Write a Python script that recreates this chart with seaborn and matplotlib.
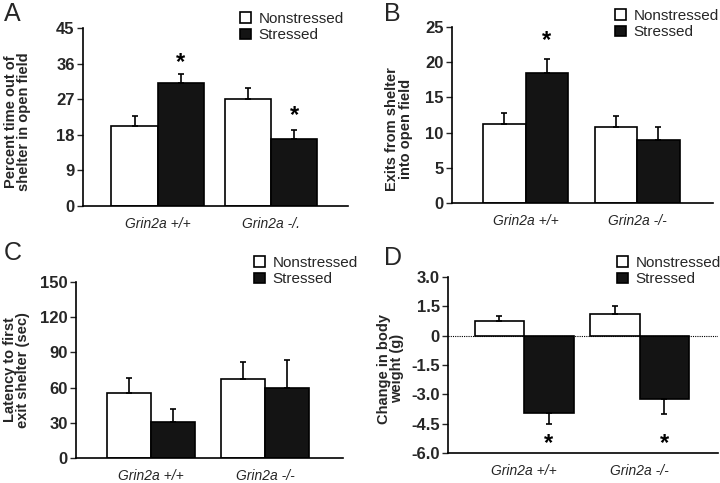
import numpy as np
import pandas as pd
import seaborn as sns
import matplotlib.pyplot as plt
from matplotlib.patches import Patch

genotypes = ["Grin2a +/+", "Grin2a -/-"]
conditions = ["Nonstressed", "Stressed"]

# panel values (Nonstressed +/+, Nonstressed -/-), (Stressed +/+, Stressed -/-)
a_non = [20.2, 27.0]
a_str = [31.1, 16.9]
a_non_err = [2.6, 2.9]
a_str_err = [2.3, 2.3]

b_non = [11.2, 10.8]
b_str = [18.5, 9.0]
b_non_err = [1.6, 1.6]
b_str_err = [1.9, 1.8]

c_non = [55.0, 67.5]
c_str = [30.6, 59.5]
c_non_err = [13.0, 14.0]
c_str_err = [11.5, 24.0]

d_non = [0.75, 1.1]
d_str = [-3.95, -3.24]
d_non_err = [0.27, 0.4]
d_str_err = [0.57, 0.78]

panels = [
    dict(letter="A", non=a_non, st=a_str, ne=a_non_err, se=a_str_err,
         ylabel="Percent time out of\nshelter in open field",
         ticks=[0, 9, 18, 27, 36, 45], ticklabels=["0", "9", "18", "27", "36", "45"],
         ylim=(0, 45), stars=[(0, 36.4), (1, 23.0)], xticklabels=["Grin2a +/+", "Grin2a -/."],
         ax=[83, 348, 28, 206], leg=(240, 12), let=(4, 2), width=0.82, lab=(-0.195, 0.475)),
    dict(letter="B", non=b_non, st=b_str, ne=b_non_err, se=b_str_err,
         ylabel="Exits from shelter\ninto open field",
         ticks=[0, 5, 10, 15, 20, 25], ticklabels=["0", "5", "10", "15", "20", "25"],
         ylim=(0, 25), stars=[(0, 23.15)], xticklabels=genotypes,
         ax=[452, 713, 27, 203], leg=(615, 9), let=(384, 2), width=0.76, lab=(-0.15, 0.42)),
    dict(letter="C", non=c_non, st=c_str, ne=c_non_err, se=c_str_err,
         ylabel="Latency to first\nexit shelter (sec)",
         ticks=[0, 30, 60, 90, 120, 150], ticklabels=["0", "30", "60", "90", "120", "150"],
         ylim=(0, 150), stars=[], xticklabels=genotypes,
         ax=[76, 343, 282, 458], leg=(254, 256), let=(4, 241), width=0.77, lab=(-0.172, 0.5)),
    dict(letter="D", non=d_non, st=d_str, ne=d_non_err, se=d_str_err,
         ylabel="Change in body\nweight (g)",
         ticks=[-6, -4.5, -3, -1.5, 0, 1.5, 3],
         ticklabels=["-6.0", "-4.5", "-3.0", "-1.5", "0", "1.5", "3.0"],
         ylim=(-6, 3), stars=[(0, -5.5), (1, -5.5)], xticklabels=genotypes,
         ax=[448, 718, 277, 453], leg=(617, 256), let=(384, 246), width=0.86, lab=(-0.163, 0.48)),
]

sns.set_theme(style="ticks")
plt.rcParams["font.family"] = ["Liberation Sans", "DejaVu Sans"]

W, H = 720, 483
fig = plt.figure(figsize=(7.2, 4.83), dpi=100)
black = "#141414"

for p in panels:
    l, r, t, b = p["ax"]
    ax = fig.add_axes([l / W, 1 - b / H, (r - l) / W, (b - t) / H])
    df = pd.DataFrame({
        "genotype": genotypes * 2,
        "condition": [conditions[0]] * 2 + [conditions[1]] * 2,
        "value": p["non"] + p["st"],
    })
    sns.barplot(data=df, x="genotype", y="value", hue="condition", order=genotypes,
                hue_order=conditions, palette={"Nonstressed": "white", "Stressed": black},
                edgecolor="black", linewidth=1.2, width=p["width"], errorbar=None,
                legend=False, ax=ax)

    # one-sided error bars, pointing away from zero
    errs = p["ne"] + p["se"]
    vals = p["non"] + p["st"]
    for patch, v, e in zip(ax.patches, vals, errs):
        xc = patch.get_x() + patch.get_width() / 2
        lo = [0] if v >= 0 else [e]
        hi = [e] if v >= 0 else [0]
        ax.errorbar([xc], [v], yerr=[lo, hi], fmt="none", ecolor="black",
                    elinewidth=1.2, capsize=2.5, capthick=1.2)

    for i, y in p["stars"]:
        ax.text(i + p["width"] / 4, y, "*", ha="center", va="center",
                fontsize=17, fontweight="bold", color="black")

    if p["letter"] == "D":
        ax.axhline(0, color="black", linewidth=0.8, linestyle=(0, (1, 1)))

    ax.set_xlim(-0.66, 1.68)
    ax.set_ylim(*p["ylim"])
    ax.set_yticks(p["ticks"])
    ax.set_yticklabels(p["ticklabels"], fontsize=12, fontweight="bold")
    ax.set_xticks([0, 1])
    ax.set_xticklabels(p["xticklabels"], fontsize=10, style="italic")
    ax.tick_params(axis="x", length=0, pad=8)
    ax.tick_params(axis="y", length=4, width=1, direction="out", pad=2)
    ax.set_xlabel("")
    ax.set_ylabel(p["ylabel"], fontsize=10.5, fontweight="bold", linespacing=0.95)
    ax.yaxis.set_label_coords(*p["lab"])
    sns.despine(ax=ax)
    for s in ["left", "bottom"]:
        ax.spines[s].set_linewidth(1.2)
        ax.spines[s].set_color("black")

    handles = [Patch(facecolor="white", edgecolor="black", linewidth=1.2),
               Patch(facecolor=black, edgecolor="black", linewidth=1.2)]
    lx, ly = p["leg"]
    fig.legend(handles, conditions, loc="upper left", bbox_to_anchor=(lx / W, 1 - ly / H),
               frameon=False, fontsize=11, handlelength=0.7, handleheight=0.7,
               handletextpad=0.5, labelspacing=0.15, borderpad=0, borderaxespad=0)

    fig.text(p["let"][0] / W, 1 - p["let"][1] / H, p["letter"], fontsize=18,
             ha="left", va="top")

fig.savefig("out.png", dpi=100)
